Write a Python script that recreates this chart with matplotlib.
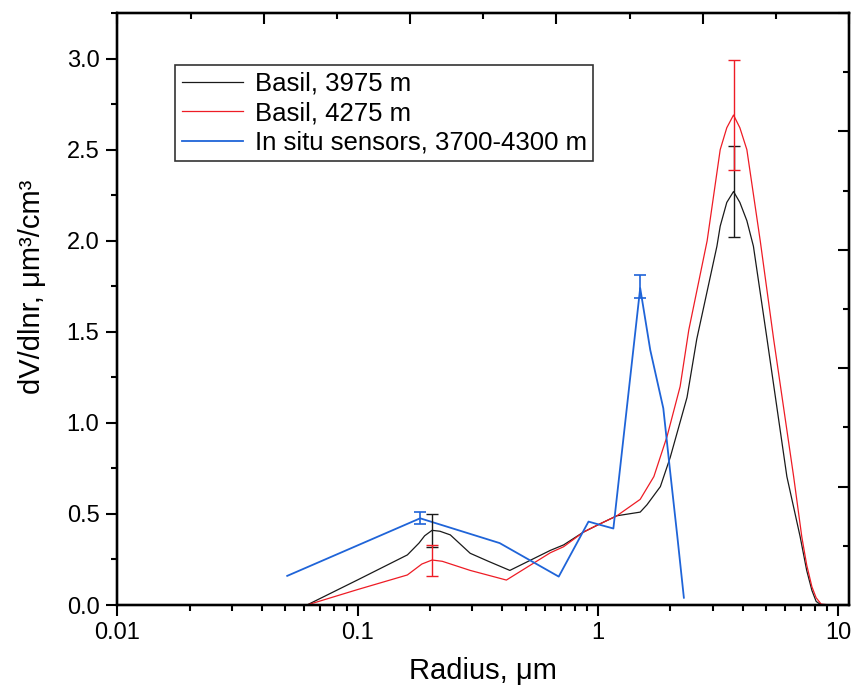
import matplotlib
matplotlib.use("Agg")
import matplotlib.pyplot as plt
import matplotlib.ticker as ticker

plt.rcParams["font.family"] = ["Liberation Sans", "DejaVu Sans"]

# Basil, 3975 m
black_x = [0.0615, 0.10, 0.161, 0.18, 0.19, 0.204, 0.22, 0.243, 0.294, 0.35, 0.43, 0.634, 0.72, 0.87, 1.0, 1.2, 1.5, 1.6, 1.82, 2.0, 2.35, 2.58, 3.13, 3.23, 3.44, 3.67, 3.9, 4.17, 4.44, 5.06, 6.12, 6.95, 7.4, 7.78, 8.1, 8.5]
black_y = [0.0, 0.138, 0.275, 0.34, 0.38, 0.41, 0.405, 0.385, 0.284, 0.24, 0.19, 0.30, 0.33, 0.40, 0.44, 0.49, 0.51, 0.55, 0.65, 0.81, 1.14, 1.46, 1.97, 2.08, 2.21, 2.27, 2.21, 2.11, 1.97, 1.46, 0.705, 0.375, 0.19, 0.08, 0.02, 0.0]

# Basil, 4275 m
red_x = [0.0509, 0.0615, 0.10, 0.161, 0.185, 0.204, 0.225, 0.294, 0.416, 0.634, 0.72, 0.87, 1.0, 1.2, 1.5, 1.71, 1.94, 2.2, 2.39, 2.85, 3.23, 3.44, 3.67, 3.9, 4.17, 4.74, 5.39, 6.53, 7.06, 7.4, 7.78, 8.1, 8.5, 9.3]
red_y = [0.0, 0.0, 0.085, 0.165, 0.225, 0.247, 0.24, 0.19, 0.137, 0.287, 0.32, 0.40, 0.44, 0.49, 0.58, 0.705, 0.925, 1.2, 1.51, 2.0, 2.5, 2.62, 2.69, 2.62, 2.5, 2.0, 1.46, 0.705, 0.375, 0.22, 0.10, 0.04, 0.005, 0.0]

# In situ sensors, 3700-4300 m
blue_x = [0.0509, 0.182, 0.39, 0.687, 0.914, 0.99, 1.16, 1.5, 1.652, 1.872, 2.0, 2.14, 2.28]
blue_y = [0.16, 0.476, 0.34, 0.156, 0.458, 0.445, 0.42, 1.74, 1.40, 1.08, 0.73, 0.38, 0.04]

# error bars
black_err_x = [0.204, 3.67]
black_err_y = [0.41, 2.27]
black_err = [0.09, 0.25]
red_err_x = [0.204, 3.67]
red_err_y = [0.247, 2.69]
red_err = [0.085, 0.30]
blue_err_x = [0.182, 1.5]
blue_err_y = [0.476, 1.747]
blue_err = [0.032, 0.063]

labels = ["Basil, 3975 m", "Basil, 4275 m", "In situ sensors, 3700-4300 m"]
BLACK = "#1a1a1a"
RED = "#ee1c25"
BLUE = "#1f64d8"

fig = plt.figure(figsize=(8.58, 6.92), dpi=100)
ax = fig.add_axes([0.1369, 0.1257, 0.8526, 0.8555])

ax.plot(black_x, black_y, color=BLACK, lw=0.9, label=labels[0])
ax.plot(red_x, red_y, color=RED, lw=0.9, label=labels[1])
ax.plot(blue_x, blue_y, color=BLUE, lw=1.3, label=labels[2])

ax.errorbar(black_err_x, black_err_y, yerr=black_err, fmt="none", ecolor=BLACK, elinewidth=1.0, capsize=4, capthick=1.0)
ax.errorbar(red_err_x, red_err_y, yerr=red_err, fmt="none", ecolor=RED, elinewidth=1.0, capsize=4, capthick=1.0)
ax.errorbar(blue_err_x, blue_err_y, yerr=blue_err, fmt="none", ecolor=BLUE, elinewidth=1.2, capsize=4, capthick=1.2)

ax.set_xscale("log")
ax.set_xlim(0.01, 11.1)
ax.set_ylim(0, 3.25)
ax.xaxis.set_major_locator(ticker.FixedLocator([0.01, 0.1, 1, 10]))
ax.xaxis.set_major_formatter(ticker.FuncFormatter(lambda v, p: f"{v:g}"))
ax.xaxis.set_minor_locator(ticker.LogLocator(base=10, subs=range(2, 10)))
ax.xaxis.set_minor_formatter(ticker.NullFormatter())
ax.yaxis.set_major_locator(ticker.MultipleLocator(0.5))
ax.yaxis.set_minor_locator(ticker.MultipleLocator(0.25))
ax.yaxis.set_major_formatter(ticker.FormatStrFormatter("%.1f"))

for s in ax.spines.values():
	s.set_linewidth(1.6)

ax.tick_params(which="both", direction="out", width=1.5, labelsize=17, top=False, right=False)
ax.tick_params(which="major", length=8)
ax.tick_params(which="minor", length=4)
ax.tick_params(axis="x", which="major", pad=4)
ax.tick_params(axis="y", which="major", pad=5)

# plain linear ticks on top and right frame
ax_top = ax.twiny()
ax_top.set_xlim(0, 1)
ax_top.xaxis.set_major_locator(ticker.MultipleLocator(0.2))
ax_top.xaxis.set_minor_locator(ticker.MultipleLocator(0.1))
ax_top.tick_params(which="both", direction="in", width=1.5, labeltop=False)
ax_top.tick_params(which="major", length=8)
ax_top.tick_params(which="minor", length=4)

ax_right = ax.twinx()
ax_right.set_ylim(0, 1)
ax_right.yaxis.set_major_locator(ticker.MultipleLocator(0.2))
ax_right.yaxis.set_minor_locator(ticker.MultipleLocator(0.1))
ax_right.tick_params(which="both", direction="in", width=1.5, labelright=False)
ax_right.tick_params(which="major", length=8)
ax_right.tick_params(which="minor", length=4)
for a in (ax_top, ax_right):
	for s in a.spines.values():
		s.set_linewidth(1.6)

ax.set_xlabel("Radius, \u03bcm", fontsize=21)
ax.set_ylabel("dV/dlnr, \u03bcm\u00b3/cm\u00b3", fontsize=21)
ax.xaxis.set_label_coords(0.5, -0.088)
ax.yaxis.set_label_coords(-0.098, 0.537)

leg = ax.legend(loc="upper left", bbox_to_anchor=(0.079, 0.912), borderaxespad=0,
	fontsize=18.5, frameon=True, fancybox=False, handlelength=2.4, handletextpad=0.45,
	labelspacing=0.22, borderpad=0.25)
leg.get_frame().set_edgecolor("black")
leg.get_frame().set_linewidth(1.2)

fig.savefig("out.png", dpi=100)
